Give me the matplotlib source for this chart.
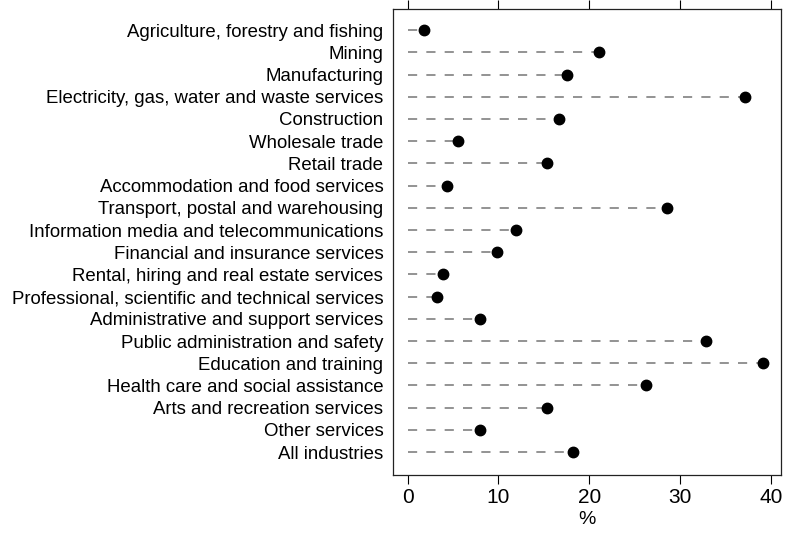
import matplotlib.pyplot as plt

industries = [
    "Agriculture, forestry and fishing",
    "Mining",
    "Manufacturing",
    "Electricity, gas, water and waste services",
    "Construction",
    "Wholesale trade",
    "Retail trade",
    "Accommodation and food services",
    "Transport, postal and warehousing",
    "Information media and telecommunications",
    "Financial and insurance services",
    "Rental, hiring and real estate services",
    "Professional, scientific and technical services",
    "Administrative and support services",
    "Public administration and safety",
    "Education and training",
    "Health care and social assistance",
    "Arts and recreation services",
    "Other services",
    "All industries",
]
pct = [1.8, 21.1, 17.6, 37.1, 16.7, 5.6, 15.3, 4.3, 28.6, 11.9,
       9.9, 3.9, 3.2, 8.0, 32.8, 39.1, 26.3, 15.3, 8.0, 18.2]

plt.rcParams['font.family'] = ['Liberation Sans', 'DejaVu Sans']

fig = plt.figure(figsize=(7.86, 5.37), dpi=100)
ax = fig.add_axes([0.5, 0.1155, 0.4936, 0.8677])

ypos = list(range(len(industries)))
for y, v in zip(ypos, pct):
    ax.plot([0, v], [y, y], color='#808080', lw=1.2, dashes=(5.5, 5.5), zorder=1)
ax.plot(pct, ypos, 'o', color='black', ms=7.5, zorder=2)

ax.set_xlim(-1.6, 41.1)
ax.set_ylim(len(industries) - 1 + 1.03, -0.95)
ax.set_yticks(ypos)
ax.set_yticklabels(industries, fontsize=13.4)
ax.tick_params(axis='y', length=0, pad=7)
ax.set_xticks([0, 10, 20, 30, 40])
ax.tick_params(axis='x', top=True, direction='out', length=6.5, width=0.8,
               labelsize=15, pad=3)
ax.set_xlabel('%', fontsize=14, labelpad=3)
for s in ax.spines.values():
    s.set_linewidth(0.9)
    s.set_color('#222222')

fig.savefig('out.png', dpi=100)
